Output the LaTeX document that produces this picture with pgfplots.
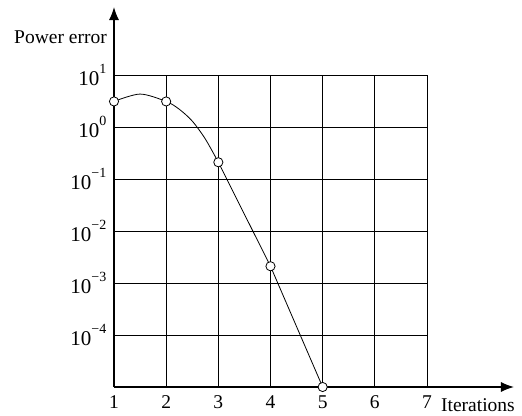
\documentclass[border=0pt]{standalone}
\usepackage{fontspec}
\setmainfont{Liberation Serif}
\usepackage{pgfplots}
\pgfplotsset{compat=1.18}
\usetikzlibrary{arrows.meta}

\newcommand{\bigfont}{\fontsize{19.5}{23}\selectfont}
% power of ten as a text label
\newcommand{\pw}[1]{{\fontsize{21}{24}\selectfont 10\raisebox{0.55em}{\fontsize{14}{14}\selectfont #1}}}
\newcommand{\mn}{\symbol{"2212}}

\begin{document}
\bigfont
\begin{tikzpicture}
\begin{axis}[
  scale only axis,
  width=313pt, height=312pt,
  ymode=log,
  xmin=1, xmax=7,
  ymin=1e-5, ymax=10,
  axis lines=left,
  axis line style={line width=1.3pt, -},
  clip=false,
  font=\bigfont,
  tick label style={font=\bigfont},
  /pgf/number format/assume math mode=true,
  xtick={1,2,3,4,5,6,7},
  xticklabels={1,2,3,4,5,6,7},
  ytick={1e-4,1e-3,1e-2,1e-1,1,10},
  yticklabels={\pw{\mn4},\pw{\mn3},\pw{\mn2},\pw{\mn1},\pw{0},\pw{1}},
  major tick length=0pt,
  tick style={draw=none},
  grid=major,
  grid style={black, line width=0.9pt},
  xticklabel style={yshift=-2pt},
  yticklabel style={xshift=-1pt},
]
% keep the page size fixed around the axes
\path (rel axis cs:0,0) ++(-114pt,-28pt) rectangle ++(522pt,415pt);

% error curve
\addplot[black, line width=0.8pt, smooth, tension=0.5] coordinates {
  (1,3.1) (1.5,4.3) (2,3.1) (2.25,2.2) (2.5,1.3) (2.75,0.59) (3,0.21)
};
\addplot[black, line width=0.8pt] coordinates {
  (3,0.21) (4,0.0021) (5,1e-5)
};
% iterates
\addplot[only marks, mark=*, mark size=4.6pt,
  mark options={fill=white, draw=black, line width=0.8pt}] coordinates {
  (1,3.1) (2,3.1) (3,0.21) (4,0.0021) (5,1e-5)
};

% axis arrows
\draw[line width=1.3pt, -{Latex[length=13pt,width=10pt]}]
  (rel axis cs:1,0) -- ++(87pt,0pt);
\draw[line width=1.3pt, -{Latex[length=13pt,width=10pt]}]
  (rel axis cs:0,1) -- ++(0pt,68pt);

\node[anchor=base east, inner sep=0pt] at ([shift={(-7pt,32pt)}]rel axis cs:0,1) {Power error};
\node[anchor=base east, inner sep=0pt] at ([shift={(88pt,-24pt)}]rel axis cs:1,0) {Iterations};
\end{axis}
\end{tikzpicture}
\end{document}
